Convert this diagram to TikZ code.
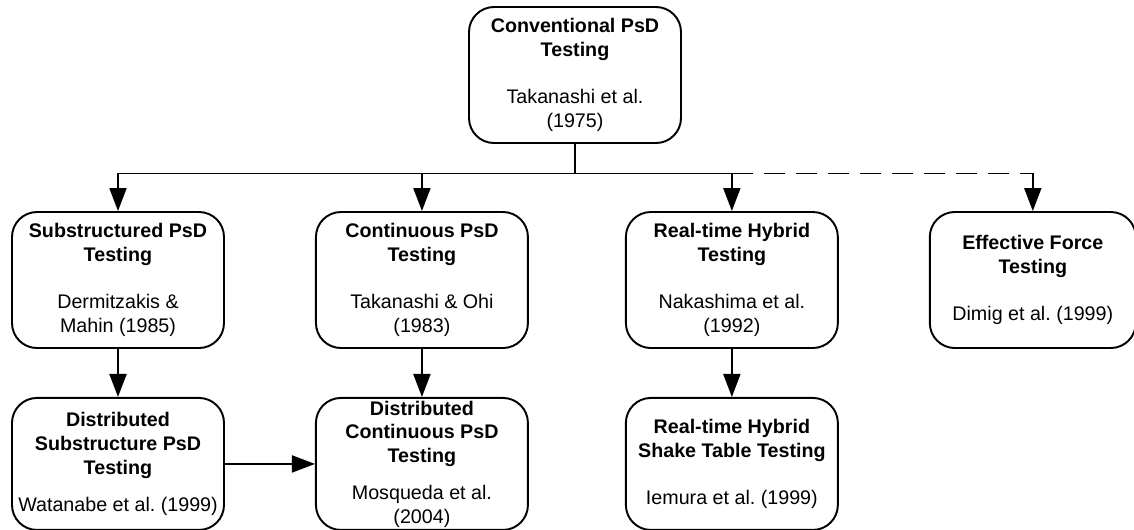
\documentclass[tikz,border=0pt]{standalone}
\usepackage{fontspec}
\setmainfont{Liberation Sans}
\usepackage{tikz}
\usetikzlibrary{arrows.meta,shapes,positioning}
\tikzset{
block/.style={
  rectangle,
  draw,
  line width=1.1pt,
  align=center,
  inner xsep=0pt,
  inner ysep=0pt,
  rounded corners=0.5cm,
  minimum width=4.24cm,
  minimum height=2.72cm,
  font=\fontsize{11.2}{13.5}\selectfont},
line/.style={draw, line width=1.1pt, -{Triangle[length=4.6mm,width=3.4mm]}},
edge/.style={draw, line width=1.1pt}
}

\begin{document}
\begin{tikzpicture}
    \useasboundingbox (0,0) rectangle (22.68,-10.58);
    \node [block] (conv) at (11.5,-1.5) {\textbf{Conventional PsD}\\\textbf{Testing}\\[13.5pt]Takanashi et al.\\(1975)};
    \node [block] (sub) at (2.36,-5.6) {\textbf{Substructured PsD}\\\textbf{Testing}\\[13.5pt]Dermitzakis \&\\Mahin (1985)};
    \node [block, right=1.8cm of sub] (cont) {\textbf{Continuous PsD}\\\textbf{Testing}\\[13.5pt]Takanashi \& Ohi\\(1983)};
    \node [block, right=1.92cm of cont] (rth) {\textbf{Real-time Hybrid}\\\textbf{Testing}\\[13.5pt]Nakashima et al.\\(1992)};
    \node [block, right=1.8cm of rth, minimum width=4.12cm] (eff) {\textbf{Effective Force}\\\textbf{Testing}\\[13.5pt]Dimig et al.\ (1999)};
    \node [block, below=0.96cm of sub, minimum height=2.64cm] (dsub) {\textbf{Distributed}\\\textbf{Substructure PsD}\\\textbf{Testing}\\[7.5pt]Watanabe et al.\ (1999)};
    \node [block, below=0.96cm of cont, minimum height=2.64cm] (dcont) {\textbf{Distributed}\\\textbf{Continuous PsD}\\\textbf{Testing}\\[7.5pt]Mosqueda et al.\\(2004)};
    \node [block, below=0.96cm of rth, minimum height=2.64cm] (rtst) {\textbf{Real-time Hybrid}\\\textbf{Shake Table Testing}\\[13.5pt]Iemura et al.\ (1999)};
    \coordinate [below=0.59cm of conv.south] (bus);
    \path [edge] (conv) -- (bus);
    \path [line] (bus) -| (sub);
    \path [line] (bus) -| (cont);
    \path [line] (bus) -| (rth);
    \path [edge, dash pattern=on 0.42cm off 0.22cm] (rth.north |- bus) -- (eff.north |- bus);
    \path [line] (eff.north |- bus) -- (eff);
    \path [line] (sub) -- (dsub);
    \path [line] (cont) -- (dcont);
    \path [line] (rth) -- (rtst);
    \path [line] (dsub) -- (dcont);
\end{tikzpicture}
\end{document}
